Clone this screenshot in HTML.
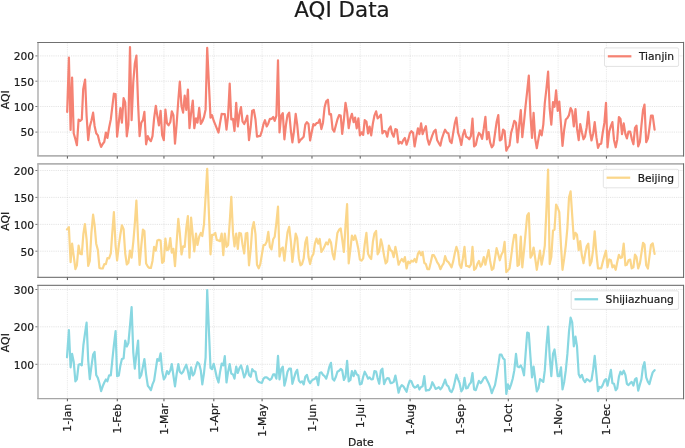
<!DOCTYPE html><html><head><meta charset="utf-8"><title>AQI Data</title>
<style>html,body{margin:0;padding:0;background:#fff}svg{display:block}text{font-family:"DejaVu Sans","Liberation Sans",sans-serif;fill:#1a1a1a;stroke:#1a1a1a;stroke-width:0.2px}</style></head><body>
<svg width="685" height="448" viewBox="0 0 685 448">
<rect width="685" height="448" fill="#fff"/>
<text x="342" y="17" font-size="21.4" text-anchor="middle">AQI Data</text>
<g>
<line x1="67.40" y1="42.5" x2="67.40" y2="155.9" stroke="#b0b0b0" stroke-opacity="0.27" stroke-width="1.0" stroke-dasharray="1.2,1.0"/>
<line x1="117.28" y1="42.5" x2="117.28" y2="155.9" stroke="#b0b0b0" stroke-opacity="0.27" stroke-width="1.0" stroke-dasharray="1.2,1.0"/>
<line x1="163.94" y1="42.5" x2="163.94" y2="155.9" stroke="#b0b0b0" stroke-opacity="0.27" stroke-width="1.0" stroke-dasharray="1.2,1.0"/>
<line x1="213.82" y1="42.5" x2="213.82" y2="155.9" stroke="#b0b0b0" stroke-opacity="0.27" stroke-width="1.0" stroke-dasharray="1.2,1.0"/>
<line x1="262.09" y1="42.5" x2="262.09" y2="155.9" stroke="#b0b0b0" stroke-opacity="0.27" stroke-width="1.0" stroke-dasharray="1.2,1.0"/>
<line x1="311.97" y1="42.5" x2="311.97" y2="155.9" stroke="#b0b0b0" stroke-opacity="0.27" stroke-width="1.0" stroke-dasharray="1.2,1.0"/>
<line x1="360.24" y1="42.5" x2="360.24" y2="155.9" stroke="#b0b0b0" stroke-opacity="0.27" stroke-width="1.0" stroke-dasharray="1.2,1.0"/>
<line x1="410.12" y1="42.5" x2="410.12" y2="155.9" stroke="#b0b0b0" stroke-opacity="0.27" stroke-width="1.0" stroke-dasharray="1.2,1.0"/>
<line x1="460.00" y1="42.5" x2="460.00" y2="155.9" stroke="#b0b0b0" stroke-opacity="0.27" stroke-width="1.0" stroke-dasharray="1.2,1.0"/>
<line x1="508.27" y1="42.5" x2="508.27" y2="155.9" stroke="#b0b0b0" stroke-opacity="0.27" stroke-width="1.0" stroke-dasharray="1.2,1.0"/>
<line x1="558.14" y1="42.5" x2="558.14" y2="155.9" stroke="#b0b0b0" stroke-opacity="0.27" stroke-width="1.0" stroke-dasharray="1.2,1.0"/>
<line x1="606.41" y1="42.5" x2="606.41" y2="155.9" stroke="#b0b0b0" stroke-opacity="0.27" stroke-width="1.0" stroke-dasharray="1.2,1.0"/>
<line x1="38.0" y1="55.9" x2="683.6" y2="55.9" stroke="#b0b0b0" stroke-opacity="0.33" stroke-width="1.0" stroke-dasharray="1.2,1.0"/>
<line x1="38.0" y1="81.2" x2="683.6" y2="81.2" stroke="#b0b0b0" stroke-opacity="0.33" stroke-width="1.0" stroke-dasharray="1.2,1.0"/>
<line x1="38.0" y1="106.5" x2="683.6" y2="106.5" stroke="#b0b0b0" stroke-opacity="0.33" stroke-width="1.0" stroke-dasharray="1.2,1.0"/>
<line x1="38.0" y1="132.1" x2="683.6" y2="132.1" stroke="#b0b0b0" stroke-opacity="0.33" stroke-width="1.0" stroke-dasharray="1.2,1.0"/>
<polyline points="67.2,111.9 68.9,57.5 70.6,130.0 72.1,77.6 73.7,133.3 75.4,139.3 76.9,145.2 78.6,119.5 80.2,120.8 81.8,119.5 83.2,89.3 85.1,79.5 86.6,115.7 88.2,140.2 89.8,126.5 91.4,120.8 93.1,112.6 94.6,125.9 96.2,133.3 97.9,135.4 99.4,141.8 101.1,146.9 102.7,144.0 104.3,141.8 105.9,132.5 107.4,138.0 109.1,127.8 110.8,119.5 112.3,106.8 113.9,93.7 115.6,94.1 117.1,136.7 118.8,122.1 120.4,108.1 121.9,122.7 123.6,98.2 125.2,102.4 126.8,136.3 128.4,124.6 130.0,47.0 131.6,120.2 133.3,81.6 134.8,63.8 136.4,55.6 138.1,104.3 139.6,136.1 141.3,122.7 142.9,120.2 144.4,111.9 146.1,144.3 147.8,136.1 149.3,139.3 150.9,141.2 152.5,136.1 154.1,118.3 155.8,105.8 157.3,115.7 158.9,125.3 160.6,110.9 162.1,134.8 163.8,140.2 165.4,109.6 167.0,123.4 168.6,125.3 170.3,122.1 171.8,111.3 173.4,115.1 175.0,143.7 176.6,124.6 178.3,100.5 179.8,81.6 181.5,106.2 183.1,112.6 184.7,95.6 186.3,110.0 187.9,89.5 189.5,128.2 191.1,113.2 192.8,100.5 194.3,128.2 196.0,118.3 197.5,122.7 199.2,107.9 200.8,124.0 202.3,121.5 204.0,117.0 205.6,109.4 207.2,47.9 210.5,117.6 212.0,115.1 213.7,120.8 215.3,124.6 216.8,128.4 218.5,132.5 220.0,123.4 221.7,113.8 223.3,114.2 224.8,114.2 226.5,129.7 228.1,115.7 229.7,83.5 231.3,119.5 233.0,118.9 234.5,131.0 236.2,102.8 237.8,126.5 239.3,114.5 241.0,107.1 242.5,121.5 244.2,124.0 245.8,120.2 247.3,115.7 249.0,140.2 250.7,126.5 252.2,110.7 253.8,110.0 255.5,119.5 257.0,136.7 258.7,136.1 260.3,135.8 261.9,131.0 263.5,124.0 265.0,120.2 266.7,126.5 268.3,123.4 269.9,118.9 271.5,118.9 273.2,117.0 274.7,120.8 276.4,115.7 278.0,60.3 279.5,132.5 281.2,115.7 282.8,113.2 284.4,139.3 286.0,124.6 287.5,115.1 289.2,112.6 290.9,131.0 292.4,142.4 294.0,131.0 295.7,113.8 297.2,124.6 298.9,142.4 300.5,139.9 302.0,138.6 303.7,136.7 305.3,124.6 306.9,122.1 308.5,124.0 310.1,140.5 311.7,132.3 313.4,124.0 314.9,125.3 316.5,123.1 318.2,122.7 319.7,119.5 321.4,129.1 323.0,122.7 324.6,107.1 326.2,101.4 327.9,99.7 329.4,114.5 331.0,114.2 332.6,129.1 334.2,131.6 335.9,125.3 337.4,119.5 339.1,115.1 340.7,115.5 342.2,133.8 343.9,119.5 345.5,102.8 347.1,111.9 348.7,128.2 350.4,118.3 351.9,113.8 353.6,122.1 355.1,117.6 356.7,128.4 358.4,118.3 359.9,135.4 361.6,132.3 363.2,134.8 364.7,120.2 366.4,121.5 368.1,133.5 369.6,126.5 371.2,135.4 372.9,123.4 374.4,115.7 376.1,111.3 377.6,118.3 379.2,117.0 380.9,114.7 382.4,133.3 384.1,131.0 385.7,131.6 387.2,136.7 388.9,129.1 390.6,126.5 392.1,133.5 393.7,136.7 395.4,129.1 396.9,129.7 398.6,143.7 400.1,141.8 401.8,143.5 403.4,139.9 404.9,138.0 406.6,144.7 408.2,139.9 409.8,133.5 411.4,131.2 413.1,132.9 414.6,146.5 416.2,137.4 417.9,128.4 419.4,134.2 421.1,123.4 422.6,134.2 424.3,129.7 425.9,126.2 427.4,138.6 429.1,144.7 430.8,139.9 432.3,135.4 433.9,131.6 435.6,129.7 437.1,139.9 438.8,143.1 440.4,145.6 441.9,138.6 443.6,133.5 445.1,129.7 446.8,132.5 448.4,133.5 450.0,141.2 451.6,143.1 453.3,132.3 454.8,123.4 456.4,117.6 458.1,132.9 459.6,137.4 461.3,145.0 462.9,134.8 464.5,130.0 466.1,136.7 467.6,137.4 469.3,139.3 470.9,136.1 472.5,118.5 474.1,146.5 475.8,145.0 477.3,138.0 478.9,132.9 480.6,134.8 482.1,138.9 483.8,128.4 485.4,116.8 487.0,139.3 488.6,132.0 490.1,142.4 491.8,147.3 493.4,145.0 495.0,133.5 496.6,122.1 498.3,115.1 499.8,140.5 501.5,139.3 503.1,129.5 504.6,131.0 506.3,150.7 507.9,147.5 509.5,145.6 511.1,132.9 512.7,127.2 514.3,120.8 516.0,122.7 517.5,142.4 519.1,125.9 520.8,110.0 522.3,137.1 524.0,122.1 525.6,105.6 527.2,91.2 528.8,75.5 530.5,115.7 532.0,138.0 533.6,112.9 535.2,138.6 536.8,148.2 538.5,138.6 540.0,130.4 541.7,135.4 543.3,124.6 544.8,103.0 546.5,88.0 548.1,71.5 549.7,108.7 551.3,124.6 553.0,102.0 554.5,106.8 556.1,90.3 557.7,110.9 559.3,101.5 561.0,124.6 562.5,146.0 564.2,129.7 565.8,119.5 567.4,118.0 569.0,115.1 570.6,108.1 572.2,111.3 573.8,126.5 575.5,109.1 577.0,128.4 578.7,140.2 580.2,124.0 581.9,132.3 583.5,139.3 585.0,136.7 586.7,127.2 588.3,111.9 589.9,131.0 591.5,140.5 593.2,133.5 594.7,122.1 596.4,137.4 598.0,147.8 599.5,144.3 601.2,143.7 602.7,132.9 604.4,122.7 606.0,102.8 607.5,147.3 609.2,131.6 610.9,125.9 612.4,122.1 614.0,139.9 615.7,147.3 617.2,139.9 618.9,117.0 620.5,118.9 622.0,134.2 623.7,123.4 625.4,134.2 626.9,138.4 628.5,131.6 630.2,131.6 631.7,138.6 633.4,144.3 635.0,127.8 636.5,125.7 638.2,146.3 639.9,141.8 641.4,125.9 643.0,110.0 644.5,104.5 646.2,142.2 647.9,138.6 649.4,128.4 651.0,115.7 652.7,115.7 654.6,129.7" fill="none" stroke="#f58273" stroke-width="2.2" stroke-linejoin="round" stroke-linecap="round"/>
<path d="M38.0 42.5V155.9" stroke="#b6b6b6" stroke-width="1.6" fill="none"/>
<path d="M37.2 155.9H683.6" stroke="#b2b2b2" stroke-width="1.6" fill="none"/>
<path d="M37.2 42.5H683.6" stroke="#707070" stroke-width="1.15" fill="none"/>
<path d="M683.6 41.9V156.55" stroke="#5c5c5c" stroke-width="0.95" fill="none"/>
<line x1="35.4" y1="55.9" x2="37.4" y2="55.9" stroke="#555" stroke-width="0.8"/>
<text x="34.1" y="60" font-size="10.7" text-anchor="end">200</text>
<line x1="35.4" y1="81.2" x2="37.4" y2="81.2" stroke="#555" stroke-width="0.8"/>
<text x="34.1" y="86" font-size="10.7" text-anchor="end">150</text>
<line x1="35.4" y1="106.5" x2="37.4" y2="106.5" stroke="#555" stroke-width="0.8"/>
<text x="34.1" y="111" font-size="10.7" text-anchor="end">100</text>
<line x1="35.4" y1="132.1" x2="37.4" y2="132.1" stroke="#555" stroke-width="0.8"/>
<text x="34.1" y="136" font-size="10.7" text-anchor="end">50</text>
<line x1="67.40" y1="156.20000000000002" x2="67.40" y2="158.6" stroke="#444" stroke-width="0.9"/>
<line x1="117.28" y1="156.20000000000002" x2="117.28" y2="158.6" stroke="#444" stroke-width="0.9"/>
<line x1="163.94" y1="156.20000000000002" x2="163.94" y2="158.6" stroke="#444" stroke-width="0.9"/>
<line x1="213.82" y1="156.20000000000002" x2="213.82" y2="158.6" stroke="#444" stroke-width="0.9"/>
<line x1="262.09" y1="156.20000000000002" x2="262.09" y2="158.6" stroke="#444" stroke-width="0.9"/>
<line x1="311.97" y1="156.20000000000002" x2="311.97" y2="158.6" stroke="#444" stroke-width="0.9"/>
<line x1="360.24" y1="156.20000000000002" x2="360.24" y2="158.6" stroke="#444" stroke-width="0.9"/>
<line x1="410.12" y1="156.20000000000002" x2="410.12" y2="158.6" stroke="#444" stroke-width="0.9"/>
<line x1="460.00" y1="156.20000000000002" x2="460.00" y2="158.6" stroke="#444" stroke-width="0.9"/>
<line x1="508.27" y1="156.20000000000002" x2="508.27" y2="158.6" stroke="#444" stroke-width="0.9"/>
<line x1="558.14" y1="156.20000000000002" x2="558.14" y2="158.6" stroke="#444" stroke-width="0.9"/>
<line x1="606.41" y1="156.20000000000002" x2="606.41" y2="158.6" stroke="#444" stroke-width="0.9"/>
<text transform="translate(9.3,99.8) rotate(-90)" font-size="10.9" text-anchor="middle">AQI</text>
<rect x="604.5" y="47.9" width="74.10000000000002" height="18.5" rx="1.5" fill="#fff" fill-opacity="0.8" stroke="#ccc" stroke-opacity="0.8" stroke-width="0.7"/>
<line x1="607.8" y1="56.3" x2="631.4" y2="56.3" stroke="#f58273" stroke-width="2.25"/>
<text x="638.9" y="60.099999999999994" font-size="10.7">Tianjin</text>
</g>
<g>
<line x1="67.40" y1="163.9" x2="67.40" y2="277.35" stroke="#b0b0b0" stroke-opacity="0.27" stroke-width="1.0" stroke-dasharray="1.2,1.0"/>
<line x1="117.28" y1="163.9" x2="117.28" y2="277.35" stroke="#b0b0b0" stroke-opacity="0.27" stroke-width="1.0" stroke-dasharray="1.2,1.0"/>
<line x1="163.94" y1="163.9" x2="163.94" y2="277.35" stroke="#b0b0b0" stroke-opacity="0.27" stroke-width="1.0" stroke-dasharray="1.2,1.0"/>
<line x1="213.82" y1="163.9" x2="213.82" y2="277.35" stroke="#b0b0b0" stroke-opacity="0.27" stroke-width="1.0" stroke-dasharray="1.2,1.0"/>
<line x1="262.09" y1="163.9" x2="262.09" y2="277.35" stroke="#b0b0b0" stroke-opacity="0.27" stroke-width="1.0" stroke-dasharray="1.2,1.0"/>
<line x1="311.97" y1="163.9" x2="311.97" y2="277.35" stroke="#b0b0b0" stroke-opacity="0.27" stroke-width="1.0" stroke-dasharray="1.2,1.0"/>
<line x1="360.24" y1="163.9" x2="360.24" y2="277.35" stroke="#b0b0b0" stroke-opacity="0.27" stroke-width="1.0" stroke-dasharray="1.2,1.0"/>
<line x1="410.12" y1="163.9" x2="410.12" y2="277.35" stroke="#b0b0b0" stroke-opacity="0.27" stroke-width="1.0" stroke-dasharray="1.2,1.0"/>
<line x1="460.00" y1="163.9" x2="460.00" y2="277.35" stroke="#b0b0b0" stroke-opacity="0.27" stroke-width="1.0" stroke-dasharray="1.2,1.0"/>
<line x1="508.27" y1="163.9" x2="508.27" y2="277.35" stroke="#b0b0b0" stroke-opacity="0.27" stroke-width="1.0" stroke-dasharray="1.2,1.0"/>
<line x1="558.14" y1="163.9" x2="558.14" y2="277.35" stroke="#b0b0b0" stroke-opacity="0.27" stroke-width="1.0" stroke-dasharray="1.2,1.0"/>
<line x1="606.41" y1="163.9" x2="606.41" y2="277.35" stroke="#b0b0b0" stroke-opacity="0.27" stroke-width="1.0" stroke-dasharray="1.2,1.0"/>
<line x1="38.0" y1="170.5" x2="683.6" y2="170.5" stroke="#b0b0b0" stroke-opacity="0.33" stroke-width="1.0" stroke-dasharray="1.2,1.0"/>
<line x1="38.0" y1="197.4" x2="683.6" y2="197.4" stroke="#b0b0b0" stroke-opacity="0.33" stroke-width="1.0" stroke-dasharray="1.2,1.0"/>
<line x1="38.0" y1="224.4" x2="683.6" y2="224.4" stroke="#b0b0b0" stroke-opacity="0.33" stroke-width="1.0" stroke-dasharray="1.2,1.0"/>
<line x1="38.0" y1="251.2" x2="683.6" y2="251.2" stroke="#b0b0b0" stroke-opacity="0.33" stroke-width="1.0" stroke-dasharray="1.2,1.0"/>
<polyline points="67.0,229.4 68.9,227.2 70.6,262.2 72.1,243.7 73.7,255.8 75.4,269.2 76.9,265.3 78.6,245.6 80.2,253.9 81.8,254.3 83.4,233.6 84.9,224.0 86.6,239.3 88.2,266.0 89.8,260.9 91.4,232.9 93.1,214.7 94.6,225.3 96.2,243.7 97.9,250.1 99.4,267.9 101.1,268.5 102.7,268.5 104.3,264.1 105.9,264.1 107.4,258.1 109.1,258.4 110.8,253.3 112.3,232.9 113.9,212.2 115.6,245.6 117.1,260.3 118.8,245.6 120.4,234.2 121.9,225.3 123.6,229.1 125.2,253.3 126.8,264.5 128.4,262.8 130.0,250.7 131.6,257.7 133.3,241.8 134.8,224.0 136.4,200.7 138.1,239.3 139.6,265.0 141.3,245.6 142.9,229.7 144.4,231.0 146.1,263.4 147.8,266.6 149.3,267.9 150.9,267.9 152.5,260.9 154.1,246.9 155.8,250.7 157.3,240.5 158.9,239.9 160.6,240.5 162.1,262.8 163.8,261.5 165.4,238.6 167.0,250.1 168.6,249.4 170.3,238.0 171.8,252.6 173.4,248.8 175.0,266.2 176.6,243.1 178.3,218.8 179.8,232.9 181.5,254.5 183.1,246.3 184.7,246.9 186.3,227.8 187.9,216.0 189.5,257.7 191.1,217.6 192.8,235.5 194.3,251.4 196.0,233.6 197.5,245.0 199.2,236.7 200.8,232.9 202.3,236.1 204.0,224.0 207.2,168.9 210.5,254.3 212.0,234.8 213.7,234.8 215.3,232.9 216.8,239.9 218.5,240.5 220.0,241.2 221.7,233.6 223.3,255.2 224.8,233.6 226.5,246.9 228.1,245.0 229.7,222.7 231.3,196.8 233.0,232.9 234.5,246.3 236.2,233.6 237.8,248.8 239.3,232.9 241.0,233.6 242.5,244.4 244.2,253.5 245.8,233.6 247.3,232.9 249.0,265.3 250.7,249.4 252.2,229.1 253.8,222.0 255.5,234.2 257.0,264.7 258.7,268.3 260.3,264.1 261.9,254.5 263.5,245.0 265.0,245.0 266.7,241.8 268.3,231.9 269.9,246.9 271.5,249.4 273.2,239.3 274.7,236.7 276.4,222.7 278.0,206.7 279.5,256.4 281.2,248.8 282.8,247.5 284.4,260.6 286.0,245.6 287.5,232.3 289.2,226.8 290.9,241.8 292.4,261.9 294.0,248.2 295.7,233.6 297.2,238.0 298.9,258.4 300.5,265.3 302.0,264.1 303.7,258.4 305.3,242.5 306.9,237.4 308.5,257.1 310.1,264.1 311.7,257.1 313.4,253.9 314.9,243.7 316.5,238.6 318.2,243.7 319.7,239.0 321.4,252.0 323.0,249.4 324.6,246.3 326.2,242.5 327.9,244.4 329.4,239.3 331.0,242.5 332.6,253.9 334.2,259.4 335.9,245.6 337.4,232.9 339.1,229.7 340.7,228.5 342.2,239.3 343.9,252.0 345.5,225.9 347.1,204.2 348.7,263.4 350.4,249.4 351.9,235.5 353.6,239.9 355.1,235.5 356.7,241.2 358.4,249.4 359.9,259.6 361.6,260.6 363.2,258.4 364.7,244.4 366.4,232.9 368.1,253.9 369.6,257.1 371.2,259.0 372.9,241.8 374.4,233.6 376.1,231.0 377.6,254.3 379.2,251.4 380.9,239.3 382.4,245.6 384.1,255.8 385.7,263.4 387.2,261.5 388.9,245.6 390.6,250.1 392.1,251.4 393.7,257.1 395.4,246.9 396.9,254.5 398.6,264.7 400.1,261.5 401.8,259.0 403.4,261.5 404.9,257.1 406.6,268.5 408.2,261.5 409.8,263.4 411.4,260.6 413.1,261.5 414.6,259.0 416.2,262.2 417.9,253.9 419.4,251.4 421.1,255.2 422.6,252.0 424.3,262.8 425.9,264.1 427.4,269.2 429.1,269.2 430.8,262.2 432.3,255.2 433.9,255.2 435.6,258.4 437.1,262.2 438.8,264.7 440.4,269.2 441.9,266.0 443.6,263.4 445.1,256.1 446.8,260.9 448.4,262.2 450.0,264.7 451.6,267.3 453.3,260.9 454.8,253.3 456.4,246.9 458.1,252.0 459.6,264.7 461.3,267.9 462.9,258.4 464.5,246.9 466.1,266.0 467.6,266.0 469.3,267.0 470.9,264.7 472.5,246.9 474.1,269.8 475.8,268.5 477.3,264.1 478.9,260.9 480.6,266.6 482.1,264.1 483.8,257.1 485.4,264.7 487.0,257.1 488.6,250.1 490.1,260.9 491.8,269.8 493.4,268.5 495.0,258.4 496.6,248.2 498.3,254.5 499.8,260.3 501.5,254.5 503.1,251.4 504.6,241.8 506.3,272.1 507.9,270.4 509.5,268.5 511.1,257.1 512.7,244.4 514.3,234.8 516.0,234.8 517.5,266.0 519.1,264.7 520.8,236.7 522.3,267.3 524.0,250.7 525.6,232.9 527.2,215.6 528.8,213.1 530.5,257.7 532.0,255.2 533.6,247.5 535.2,258.4 536.8,269.8 538.5,259.6 540.0,250.7 541.6,264.7 543.3,255.8 544.8,245.6 546.5,207.6 548.1,169.6 549.7,264.1 551.3,257.1 553.0,230.4 554.5,229.7 556.1,204.5 557.8,208.0 559.3,212.2 561.0,245.6 562.5,269.8 564.2,258.4 565.8,245.6 567.4,227.8 569.0,197.5 570.6,191.4 573.8,239.0 575.5,232.9 577.0,234.8 578.7,250.1 580.2,241.2 581.9,255.8 583.5,263.2 585.0,254.5 586.7,246.3 588.3,243.7 589.9,265.3 591.5,261.5 593.2,249.4 594.7,231.4 596.4,253.3 598.0,268.3 599.5,268.3 601.2,268.3 602.7,262.2 604.4,255.8 606.0,250.7 607.5,267.3 609.2,259.4 610.9,260.3 612.4,267.3 614.0,265.3 615.7,269.8 617.2,262.2 618.9,254.8 620.5,258.1 622.0,257.3 623.7,243.7 625.4,265.3 626.9,264.7 628.5,260.3 630.2,259.6 631.7,268.3 633.4,267.3 635.0,254.5 636.5,257.1 638.2,268.3 639.9,263.4 641.4,253.3 643.0,242.8 644.5,244.4 646.2,265.3 647.9,268.5 649.4,257.1 651.0,245.0 652.7,243.3 654.6,253.9" fill="none" stroke="#fbd68a" stroke-width="2.2" stroke-linejoin="round" stroke-linecap="round"/>
<path d="M38.0 163.9V277.35" stroke="#b6b6b6" stroke-width="1.6" fill="none"/>
<path d="M37.2 277.35H683.6" stroke="#808080" stroke-width="1.3" fill="none"/>
<path d="M37.2 163.9H683.6" stroke="#b2b2b2" stroke-width="1.6" fill="none"/>
<path d="M683.6 163.3V278.0" stroke="#5c5c5c" stroke-width="0.95" fill="none"/>
<line x1="35.4" y1="170.5" x2="37.4" y2="170.5" stroke="#555" stroke-width="0.8"/>
<text x="34.1" y="175" font-size="10.7" text-anchor="end">200</text>
<line x1="35.4" y1="197.4" x2="37.4" y2="197.4" stroke="#555" stroke-width="0.8"/>
<text x="34.1" y="202" font-size="10.7" text-anchor="end">150</text>
<line x1="35.4" y1="224.4" x2="37.4" y2="224.4" stroke="#555" stroke-width="0.8"/>
<text x="34.1" y="229" font-size="10.7" text-anchor="end">100</text>
<line x1="35.4" y1="251.2" x2="37.4" y2="251.2" stroke="#555" stroke-width="0.8"/>
<text x="34.1" y="256" font-size="10.7" text-anchor="end">50</text>
<line x1="67.40" y1="277.65000000000003" x2="67.40" y2="280.05" stroke="#444" stroke-width="0.9"/>
<line x1="117.28" y1="277.65000000000003" x2="117.28" y2="280.05" stroke="#444" stroke-width="0.9"/>
<line x1="163.94" y1="277.65000000000003" x2="163.94" y2="280.05" stroke="#444" stroke-width="0.9"/>
<line x1="213.82" y1="277.65000000000003" x2="213.82" y2="280.05" stroke="#444" stroke-width="0.9"/>
<line x1="262.09" y1="277.65000000000003" x2="262.09" y2="280.05" stroke="#444" stroke-width="0.9"/>
<line x1="311.97" y1="277.65000000000003" x2="311.97" y2="280.05" stroke="#444" stroke-width="0.9"/>
<line x1="360.24" y1="277.65000000000003" x2="360.24" y2="280.05" stroke="#444" stroke-width="0.9"/>
<line x1="410.12" y1="277.65000000000003" x2="410.12" y2="280.05" stroke="#444" stroke-width="0.9"/>
<line x1="460.00" y1="277.65000000000003" x2="460.00" y2="280.05" stroke="#444" stroke-width="0.9"/>
<line x1="508.27" y1="277.65000000000003" x2="508.27" y2="280.05" stroke="#444" stroke-width="0.9"/>
<line x1="558.14" y1="277.65000000000003" x2="558.14" y2="280.05" stroke="#444" stroke-width="0.9"/>
<line x1="606.41" y1="277.65000000000003" x2="606.41" y2="280.05" stroke="#444" stroke-width="0.9"/>
<text transform="translate(9.3,221.225) rotate(-90)" font-size="10.9" text-anchor="middle">AQI</text>
<rect x="603.3" y="169.3" width="75.30000000000007" height="18.5" rx="1.5" fill="#fff" fill-opacity="0.8" stroke="#ccc" stroke-opacity="0.8" stroke-width="0.7"/>
<line x1="606.5999999999999" y1="177.70000000000002" x2="630.1999999999999" y2="177.70000000000002" stroke="#fbd68a" stroke-width="2.25"/>
<text x="637.6999999999999" y="181.5" font-size="10.7">Beijing</text>
</g>
<g>
<line x1="67.40" y1="285.45" x2="67.40" y2="398.6" stroke="#b0b0b0" stroke-opacity="0.27" stroke-width="1.0" stroke-dasharray="1.2,1.0"/>
<line x1="117.28" y1="285.45" x2="117.28" y2="398.6" stroke="#b0b0b0" stroke-opacity="0.27" stroke-width="1.0" stroke-dasharray="1.2,1.0"/>
<line x1="163.94" y1="285.45" x2="163.94" y2="398.6" stroke="#b0b0b0" stroke-opacity="0.27" stroke-width="1.0" stroke-dasharray="1.2,1.0"/>
<line x1="213.82" y1="285.45" x2="213.82" y2="398.6" stroke="#b0b0b0" stroke-opacity="0.27" stroke-width="1.0" stroke-dasharray="1.2,1.0"/>
<line x1="262.09" y1="285.45" x2="262.09" y2="398.6" stroke="#b0b0b0" stroke-opacity="0.27" stroke-width="1.0" stroke-dasharray="1.2,1.0"/>
<line x1="311.97" y1="285.45" x2="311.97" y2="398.6" stroke="#b0b0b0" stroke-opacity="0.27" stroke-width="1.0" stroke-dasharray="1.2,1.0"/>
<line x1="360.24" y1="285.45" x2="360.24" y2="398.6" stroke="#b0b0b0" stroke-opacity="0.27" stroke-width="1.0" stroke-dasharray="1.2,1.0"/>
<line x1="410.12" y1="285.45" x2="410.12" y2="398.6" stroke="#b0b0b0" stroke-opacity="0.27" stroke-width="1.0" stroke-dasharray="1.2,1.0"/>
<line x1="460.00" y1="285.45" x2="460.00" y2="398.6" stroke="#b0b0b0" stroke-opacity="0.27" stroke-width="1.0" stroke-dasharray="1.2,1.0"/>
<line x1="508.27" y1="285.45" x2="508.27" y2="398.6" stroke="#b0b0b0" stroke-opacity="0.27" stroke-width="1.0" stroke-dasharray="1.2,1.0"/>
<line x1="558.14" y1="285.45" x2="558.14" y2="398.6" stroke="#b0b0b0" stroke-opacity="0.27" stroke-width="1.0" stroke-dasharray="1.2,1.0"/>
<line x1="606.41" y1="285.45" x2="606.41" y2="398.6" stroke="#b0b0b0" stroke-opacity="0.27" stroke-width="1.0" stroke-dasharray="1.2,1.0"/>
<line x1="38.0" y1="289.5" x2="683.6" y2="289.5" stroke="#b0b0b0" stroke-opacity="0.33" stroke-width="1.0" stroke-dasharray="1.2,1.0"/>
<line x1="38.0" y1="326.8" x2="683.6" y2="326.8" stroke="#b0b0b0" stroke-opacity="0.33" stroke-width="1.0" stroke-dasharray="1.2,1.0"/>
<line x1="38.0" y1="364.3" x2="683.6" y2="364.3" stroke="#b0b0b0" stroke-opacity="0.33" stroke-width="1.0" stroke-dasharray="1.2,1.0"/>
<polyline points="67.0,357.1 68.9,330.0 70.6,367.3 72.1,353.9 73.7,361.6 75.4,381.3 76.9,379.4 78.6,364.7 80.2,364.1 81.8,365.4 83.4,345.0 84.9,334.2 86.6,322.7 88.2,360.3 89.8,379.1 91.4,366.6 93.1,354.6 94.6,352.0 96.2,374.9 97.9,378.1 99.4,383.2 101.1,391.1 102.7,386.3 104.3,382.5 105.9,379.4 107.4,381.3 109.1,375.3 110.8,375.3 112.3,360.3 113.9,345.0 115.6,331.2 117.1,376.2 118.8,375.5 120.4,365.4 121.9,359.0 123.6,358.4 125.2,340.5 126.8,346.5 128.4,343.1 130.0,325.6 131.6,307.1 133.3,352.6 134.8,368.6 136.4,353.9 138.1,340.5 139.6,378.1 141.3,374.9 142.9,366.6 144.4,359.0 146.1,374.3 147.8,385.7 149.3,387.6 150.9,390.2 152.5,384.4 154.1,380.6 155.8,369.2 157.3,359.0 158.9,360.9 160.6,353.3 162.1,370.4 163.8,379.4 165.4,376.8 167.0,371.1 168.6,374.0 170.3,370.4 171.8,364.1 173.4,375.5 175.0,386.3 176.6,374.3 178.3,364.1 179.8,371.7 181.5,373.6 183.1,371.7 184.7,367.9 186.3,364.7 187.9,371.1 189.5,379.1 191.1,367.3 192.8,375.5 194.3,373.6 196.0,366.6 197.5,362.2 199.2,364.1 200.8,370.4 202.3,384.4 204.0,373.0 205.6,357.7 207.2,290.0 210.5,367.9 212.0,369.2 213.7,363.8 215.3,370.4 216.8,377.4 218.5,382.5 220.0,372.4 221.7,363.5 223.3,365.4 224.8,356.2 226.5,382.5 228.1,371.7 229.7,364.1 231.3,373.6 233.0,374.5 234.5,378.7 236.2,366.6 237.8,373.0 239.3,368.6 241.0,365.4 242.5,370.4 244.2,377.4 245.8,373.6 247.3,366.0 249.0,374.9 250.7,376.8 252.2,369.2 253.8,371.1 255.5,371.7 257.0,380.0 258.7,381.9 260.3,382.5 261.9,382.9 263.5,378.7 265.0,377.4 266.7,377.4 268.3,378.7 269.9,380.0 271.5,378.7 273.2,374.3 274.7,374.3 276.4,378.7 278.0,355.8 279.5,379.4 281.2,369.2 282.8,366.6 284.4,385.7 286.0,379.4 287.5,371.7 289.2,368.6 290.9,368.6 292.4,383.8 294.0,378.1 295.7,372.4 297.2,369.8 298.9,380.6 300.5,382.5 302.0,381.3 303.7,384.4 305.3,376.8 306.9,374.9 308.5,380.6 310.1,383.2 311.7,380.6 313.4,379.4 314.9,378.7 316.5,376.8 318.2,385.1 319.7,373.0 321.4,372.4 323.0,374.9 324.6,376.2 326.2,378.7 327.9,373.0 329.4,366.6 331.0,362.8 332.6,378.7 334.2,380.6 335.9,376.8 337.4,371.7 339.1,370.7 340.7,368.9 342.2,370.4 343.9,380.0 345.5,376.8 347.1,360.9 348.7,381.3 350.4,380.0 351.9,371.1 353.6,376.2 355.1,370.7 356.7,374.3 358.4,375.5 359.9,384.4 361.6,383.8 363.2,376.8 364.7,371.7 366.4,374.9 368.1,378.7 369.6,377.4 371.2,379.4 372.9,379.1 374.4,371.1 376.1,371.5 377.6,378.1 379.2,383.8 380.9,370.4 382.4,368.6 384.1,384.2 385.7,380.0 387.2,378.1 388.9,378.3 390.6,383.2 392.1,382.9 393.7,381.9 395.4,375.5 396.9,383.2 398.6,392.7 400.1,387.6 401.8,385.1 403.4,386.3 404.9,388.9 406.6,391.8 408.2,385.1 409.8,380.6 411.4,381.3 413.1,385.7 414.6,387.6 416.2,387.0 417.9,385.1 419.4,389.5 421.1,387.0 422.6,386.3 424.3,376.2 425.9,390.6 427.4,390.2 429.1,390.2 430.8,387.6 432.3,382.2 433.9,385.1 435.6,388.9 437.1,388.3 438.8,387.2 440.4,389.3 441.9,387.6 443.6,383.8 445.1,379.6 446.8,385.1 448.4,386.3 450.0,390.8 451.6,392.1 453.3,388.3 454.8,381.9 456.4,374.5 458.1,379.4 459.6,383.2 461.3,391.4 462.9,388.9 464.5,377.8 466.1,388.3 467.6,388.0 469.3,384.4 470.9,382.5 472.5,373.0 474.1,389.5 475.8,390.2 477.3,385.7 478.9,380.9 480.6,383.2 482.1,381.3 483.8,378.1 485.4,376.8 487.0,380.0 488.6,383.2 490.1,387.0 491.8,393.1 493.4,388.9 495.0,385.1 496.6,376.2 498.3,365.4 499.8,354.6 501.5,354.6 503.1,358.4 504.6,359.6 506.3,394.0 507.9,384.4 509.5,388.9 511.1,384.4 512.7,378.7 514.3,370.4 516.0,353.9 517.5,366.6 519.1,367.3 520.8,365.4 522.3,368.6 524.0,375.3 525.6,353.9 527.2,332.5 528.8,333.3 530.5,357.7 532.0,377.4 533.6,366.6 535.2,379.4 536.8,391.4 538.5,388.3 540.0,379.1 541.6,380.4 543.3,381.9 544.8,370.4 546.5,345.0 548.1,326.5 549.7,356.5 551.3,376.2 553.0,353.9 554.5,349.5 556.1,362.2 557.7,376.2 559.3,376.2 561.0,367.3 562.5,389.5 564.2,381.9 565.8,370.4 567.4,353.9 569.0,331.6 570.6,317.6 572.2,322.3 573.8,346.3 575.5,336.7 577.0,346.3 578.7,374.3 580.2,377.4 581.9,374.9 583.5,380.0 585.0,382.2 586.7,379.1 588.3,380.0 589.9,381.3 591.5,380.0 593.2,369.2 594.7,355.8 596.4,374.3 598.0,391.1 599.5,387.0 601.2,387.6 602.7,385.1 604.4,380.6 606.0,379.1 607.5,385.7 609.2,378.1 610.9,369.8 612.4,383.2 614.0,383.8 615.7,390.2 617.2,388.3 618.9,376.8 620.5,371.7 622.0,374.3 623.7,370.7 625.4,374.9 626.9,383.8 628.5,385.1 630.2,383.2 631.7,381.9 633.4,385.5 635.0,379.4 636.5,378.1 638.2,390.6 639.9,384.4 641.4,379.4 643.0,366.6 644.5,362.2 646.2,377.4 647.9,381.9 649.4,384.2 651.0,378.1 652.7,372.4 654.6,370.2" fill="none" stroke="#88d7e1" stroke-width="2.2" stroke-linejoin="round" stroke-linecap="round"/>
<path d="M38.0 285.45V398.6" stroke="#b6b6b6" stroke-width="1.6" fill="none"/>
<path d="M37.2 398.6H683.6" stroke="#a6a6a6" stroke-width="1.4" fill="none"/>
<path d="M37.2 285.45H683.6" stroke="#808080" stroke-width="1.3" fill="none"/>
<path d="M683.6 284.84999999999997V399.25" stroke="#5c5c5c" stroke-width="0.95" fill="none"/>
<line x1="35.4" y1="289.5" x2="37.4" y2="289.5" stroke="#555" stroke-width="0.8"/>
<text x="34.1" y="294" font-size="10.7" text-anchor="end">300</text>
<line x1="35.4" y1="326.8" x2="37.4" y2="326.8" stroke="#555" stroke-width="0.8"/>
<text x="34.1" y="331" font-size="10.7" text-anchor="end">200</text>
<line x1="35.4" y1="364.3" x2="37.4" y2="364.3" stroke="#555" stroke-width="0.8"/>
<text x="34.1" y="369" font-size="10.7" text-anchor="end">100</text>
<line x1="67.40" y1="398.90000000000003" x2="67.40" y2="401.3" stroke="#444" stroke-width="0.9"/>
<line x1="117.28" y1="398.90000000000003" x2="117.28" y2="401.3" stroke="#444" stroke-width="0.9"/>
<line x1="163.94" y1="398.90000000000003" x2="163.94" y2="401.3" stroke="#444" stroke-width="0.9"/>
<line x1="213.82" y1="398.90000000000003" x2="213.82" y2="401.3" stroke="#444" stroke-width="0.9"/>
<line x1="262.09" y1="398.90000000000003" x2="262.09" y2="401.3" stroke="#444" stroke-width="0.9"/>
<line x1="311.97" y1="398.90000000000003" x2="311.97" y2="401.3" stroke="#444" stroke-width="0.9"/>
<line x1="360.24" y1="398.90000000000003" x2="360.24" y2="401.3" stroke="#444" stroke-width="0.9"/>
<line x1="410.12" y1="398.90000000000003" x2="410.12" y2="401.3" stroke="#444" stroke-width="0.9"/>
<line x1="460.00" y1="398.90000000000003" x2="460.00" y2="401.3" stroke="#444" stroke-width="0.9"/>
<line x1="508.27" y1="398.90000000000003" x2="508.27" y2="401.3" stroke="#444" stroke-width="0.9"/>
<line x1="558.14" y1="398.90000000000003" x2="558.14" y2="401.3" stroke="#444" stroke-width="0.9"/>
<line x1="606.41" y1="398.90000000000003" x2="606.41" y2="401.3" stroke="#444" stroke-width="0.9"/>
<text transform="translate(9.3,342.625) rotate(-90)" font-size="10.9" text-anchor="middle">AQI</text>
<rect x="571.2" y="290.84999999999997" width="107.39999999999998" height="18.5" rx="1.5" fill="#fff" fill-opacity="0.8" stroke="#ccc" stroke-opacity="0.8" stroke-width="0.7"/>
<line x1="574.5" y1="299.24999999999994" x2="598.1" y2="299.24999999999994" stroke="#88d7e1" stroke-width="2.25"/>
<text x="605.6" y="303.04999999999995" font-size="10.7">Shijiazhuang</text>
</g>
<text transform="translate(71.20,403.90000000000003) rotate(-90)" font-size="10.7" text-anchor="end">1-Jan</text>
<text transform="translate(121.08,403.90000000000003) rotate(-90)" font-size="10.7" text-anchor="end">1-Feb</text>
<text transform="translate(167.74,403.90000000000003) rotate(-90)" font-size="10.7" text-anchor="end">1-Mar</text>
<text transform="translate(217.62,403.90000000000003) rotate(-90)" font-size="10.7" text-anchor="end">1-Apr</text>
<text transform="translate(265.89,403.90000000000003) rotate(-90)" font-size="10.7" text-anchor="end">1-May</text>
<text transform="translate(315.77,403.90000000000003) rotate(-90)" font-size="10.7" text-anchor="end">1-Jun</text>
<text transform="translate(364.04,403.90000000000003) rotate(-90)" font-size="10.7" text-anchor="end">1-Jul</text>
<text transform="translate(413.92,403.90000000000003) rotate(-90)" font-size="10.7" text-anchor="end">1-Aug</text>
<text transform="translate(463.80,403.90000000000003) rotate(-90)" font-size="10.7" text-anchor="end">1-Sep</text>
<text transform="translate(512.07,403.90000000000003) rotate(-90)" font-size="10.7" text-anchor="end">1-Oct</text>
<text transform="translate(561.94,403.90000000000003) rotate(-90)" font-size="10.7" text-anchor="end">1-Nov</text>
<text transform="translate(610.21,403.90000000000003) rotate(-90)" font-size="10.7" text-anchor="end">1-Dec</text>
<text x="360.8" y="445.8" font-size="10.8" text-anchor="middle">Date</text>
</svg></body></html>
